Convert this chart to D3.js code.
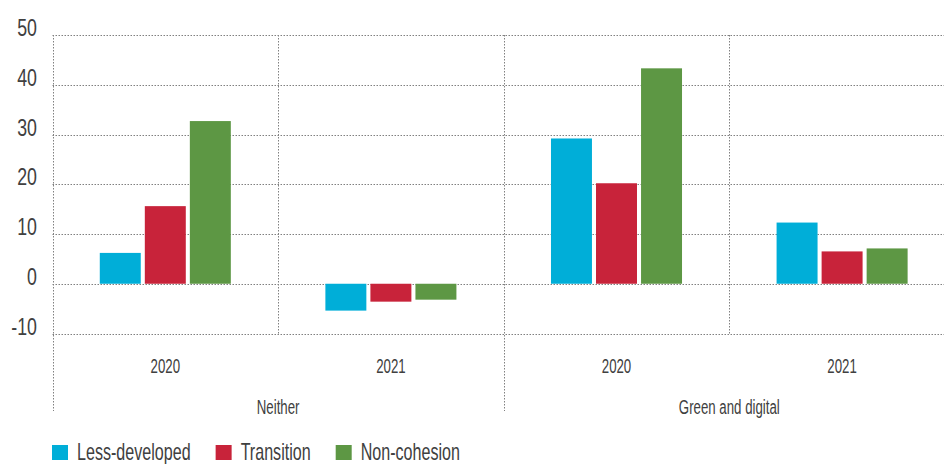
<!DOCTYPE html>
<html lang="en">
<head>
	<meta charset="UTF-8">
	<title>Grouped bars</title>
	<script src="https://cdn.jsdelivr.net/npm/d3@7"></script>
	<style>
		body { margin: 0; background: #fff; }
		text { font-family: "Liberation Sans", Arial, sans-serif; fill: #404040; }
		.grid line { stroke: #808080; stroke-width: 1; stroke-dasharray: 1.5,1.5; }
	</style>
</head>
<body>
	<svg id="svg"></svg>
	<script>
		// data
		var groups = ["Neither", "Green and digital"];
		var years = ["2020", "2021"];
		var seriesNames = ["Less-developed", "Transition", "Non-cohesion"];
		var seriesColors = ["#00aed8", "#c8233a", "#5d9744"];
		var lessDeveloped = [6.2, -5.4, 29.2, 12.3];
		var transition = [15.6, -3.6, 20.2, 6.5];
		var nonCohesion = [32.7, -3.2, 43.3, 7.1];
		var yTicks = [-10, 0, 10, 20, 30, 40, 50];

		var w = 944,
			h = 464,
			svg = d3.select("#svg").attr("width", w).attr("height", h);

		var values = [lessDeveloped, transition, nonCohesion];
		var cats = [];
		groups.forEach(function(g) {
			years.forEach(function(yr) { cats.push(g + "|" + yr); });
		});

		var left = 52.5, catW = 225.6;
		var x = d3.scaleBand().domain(cats).range([left, left + catW * cats.length]).padding(0);
		var xs = d3.scaleBand().domain(seriesNames).range([0, x.bandwidth()])
			.paddingInner(0.09).paddingOuter(1.05);
		var y = d3.scaleLinear().domain([-10, 50]).range([333.5, 35]);

		// condensed look: plain font squeezed sideways
		function label(parent, px, py, txt, size, sx, anchor) {
			return parent.append("g")
				.attr("transform", "translate(" + px + "," + py + ")")
				.append("text")
				.attr("transform", "scale(" + sx + ",1)")
				.attr("text-anchor", anchor || "start")
				.style("font-size", size + "px")
				.text(txt);
		}

		// horizontal gridlines
		var grid = svg.append("g").attr("class", "grid");
		grid.selectAll(".h").data(yTicks).enter().append("line")
			.attr("x1", left).attr("x2", w)
			.attr("y1", function(d) { return Math.round(y(d)) + 0.5; })
			.attr("y2", function(d) { return Math.round(y(d)) + 0.5; });

		// vertical gridlines: category edges, long ones at group edges
		cats.forEach(function(c, i) {
			var xx = Math.round(x(c)) + 0.5;
			var isGroupEdge = i % years.length == 0;
			grid.append("line")
				.attr("x1", xx).attr("x2", xx)
				.attr("y1", y(50)).attr("y2", isGroupEdge ? 411 : y(-10));
		});

		// y labels
		var yl = svg.append("g");
		yTicks.forEach(function(d) {
			label(yl, 37, y(d) + 1, d, 24, 0.74, "end");
		});

		// bars
		cats.forEach(function(c, i) {
			var g = svg.append("g").attr("transform", "translate(" + x(c) + ",0)");
			g.selectAll("rect").data(seriesNames).enter().append("rect")
				.attr("x", function(s) { return xs(s); })
				.attr("width", xs.bandwidth())
				.attr("y", function(s, j) { return y(Math.max(0, values[j][i])); })
				.attr("height", function(s, j) { return Math.abs(y(values[j][i]) - y(0)); })
				.attr("fill", function(s, j) { return seriesColors[j]; });
		});

		// year labels
		var xl = svg.append("g");
		cats.forEach(function(c) {
			label(xl, x(c) + x.bandwidth() / 2, 373, c.split("|")[1], 19.5, 0.68, "middle");
		});

		// group labels
		groups.forEach(function(g) {
			label(xl, x(g + "|" + years[0]) + x.bandwidth(), 414, g, 19.5, 0.68, "middle");
		});

		// legend
		var lx = 52;
		var lg = svg.append("g");
		seriesNames.forEach(function(s, j) {
			lg.append("rect")
				.attr("x", lx).attr("y", 445)
				.attr("width", 16).attr("height", 15)
				.attr("fill", seriesColors[j]);
			var t = label(lg, lx + 25, 460, s, 23, 0.7, "start");
			lx += 25 + t.node().getComputedTextLength() * 0.7 + 25;
		});
	</script>
</body>
</html>
